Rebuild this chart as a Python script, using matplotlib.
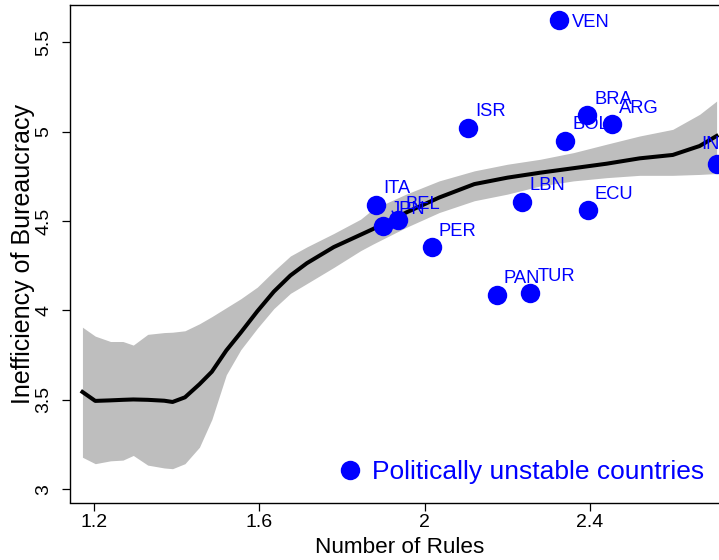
import matplotlib
matplotlib.use("Agg")
import matplotlib.pyplot as plt
from matplotlib.lines import Line2D

plt.rcParams['font.family'] = ['Liberation Sans', 'DejaVu Sans']

# countries (politically unstable)
countries = ['VEN', 'ISR', 'BRA', 'ARG', 'BOL', 'IND', 'ITA', 'LBN', 'ECU',
             'BEL', 'JPN', 'PER', 'PAN', 'TUR']
rules = [2.325, 2.104, 2.392, 2.453, 2.340, 2.706, 1.882, 2.236, 2.394,
         1.936, 1.900, 2.017, 2.174, 2.255]
ineff = [5.623, 5.021, 5.092, 5.040, 4.947, 4.817, 4.590, 4.607, 4.561,
         4.505, 4.473, 4.352, 4.087, 4.098]

# loess fit + confidence band
smooth_x = [1.172, 1.203, 1.24, 1.27, 1.295, 1.33, 1.37, 1.39, 1.42, 1.455,
            1.485, 1.52, 1.555, 1.595, 1.635, 1.675, 1.715, 1.78, 1.845,
            1.875, 1.955, 2.035, 2.12, 2.2, 2.28, 2.36, 2.44, 2.52, 2.6,
            2.665, 2.706]
smooth_fit = [3.544, 3.494, 3.497, 3.500, 3.502, 3.500, 3.495, 3.488, 3.514,
              3.587, 3.657, 3.776, 3.876, 3.995, 4.105, 4.195, 4.264, 4.354,
              4.423, 4.455, 4.547, 4.631, 4.706, 4.742, 4.770, 4.795, 4.82,
              4.85, 4.869, 4.919, 4.975]
smooth_hi = [3.906, 3.856, 3.826, 3.826, 3.806, 3.866, 3.876, 3.878, 3.886,
             3.925, 3.965, 4.015, 4.065, 4.13, 4.22, 4.304, 4.355, 4.43,
             4.51, 4.566, 4.65, 4.724, 4.78, 4.817, 4.845, 4.882, 4.929,
             4.975, 5.012, 5.096, 5.17]
smooth_lo = [3.179, 3.143, 3.159, 3.163, 3.189, 3.135, 3.119, 3.115, 3.143,
             3.235, 3.39, 3.64, 3.78, 3.90, 4.01, 4.095, 4.15, 4.24, 4.334,
             4.371, 4.464, 4.547, 4.613, 4.65, 4.696, 4.724, 4.742, 4.755,
             4.755, 4.76, 4.765]

xticks = [1.2, 1.6, 2.0, 2.4]
xticklabels = ['1.2', '1.6', '2', '2.4']
yticks = [3, 3.5, 4, 4.5, 5, 5.5]
yticklabels = ['3', '3.5', '4', '4.5', '5', '5.5']

W, H = 719, 560
fig = plt.figure(figsize=(W / 100, H / 100), dpi=100)
# the plot region runs a bit past the right edge of the picture
ax = fig.add_axes([70 / W, 1 - 502.5 / H, 659.4 / W, 497.1 / H])

ax.fill_between(smooth_x, smooth_lo, smooth_hi, color='#BEBEBE', lw=0, zorder=1)
ax.plot(smooth_x, smooth_fit, color='black', lw=2.9, zorder=2)
ax.plot(rules, ineff, 'o', color='blue', ms=14, mec='none', zorder=3)

# label offsets in points (most sit up-right of the dot)
special = {'VEN': (9.4, -5.3), 'IND': (-10.8, 10.8)}
for name, x, y in zip(countries, rules, ineff):
    off = special.get(name, (5.2, 8.3))
    ax.annotate(name, (x, y), xytext=off, textcoords='offset points',
                ha='left', va='baseline', color='blue', fontsize=13.2,
                zorder=4)

ax.set_xlim(1.1419, 2.737)
ax.set_ylim(2.926, 5.705)
ax.set_xticks(xticks)
ax.set_xticklabels(xticklabels)
ax.set_yticks(yticks)
ax.set_yticklabels(yticklabels, rotation=90, va='center')
ax.tick_params(axis='both', direction='out', length=5.5, width=0.9,
               labelsize=14, color='black')
ax.tick_params(axis='x', pad=3)
ax.tick_params(axis='y', pad=7)
for side in ('left', 'top', 'bottom'):
    ax.spines[side].set_linewidth(1.0)
ax.spines['right'].set_visible(False)

ax.set_xlabel('Number of Rules', fontsize=16.2)
ax.xaxis.set_label_coords(0.5, -0.069)
ax.set_ylabel('Inefficiency of Bureaucracy', fontsize=18)
ax.yaxis.set_label_coords(-0.053, 0.5)

handle = Line2D([], [], marker='o', ls='', color='blue', ms=14, mec='none')
leg = fig.legend(handles=[handle], labels=['Politically unstable countries'],
                 loc='center left', bbox_to_anchor=(339.4 / W, 1 - 472 / H),
                 frameon=False, fontsize=19, borderpad=0, borderaxespad=0,
                 handlelength=0.8, handletextpad=0.45, numpoints=1)
for t in leg.get_texts():
    t.set_color('blue')

fig.savefig('out.png', dpi=100)
